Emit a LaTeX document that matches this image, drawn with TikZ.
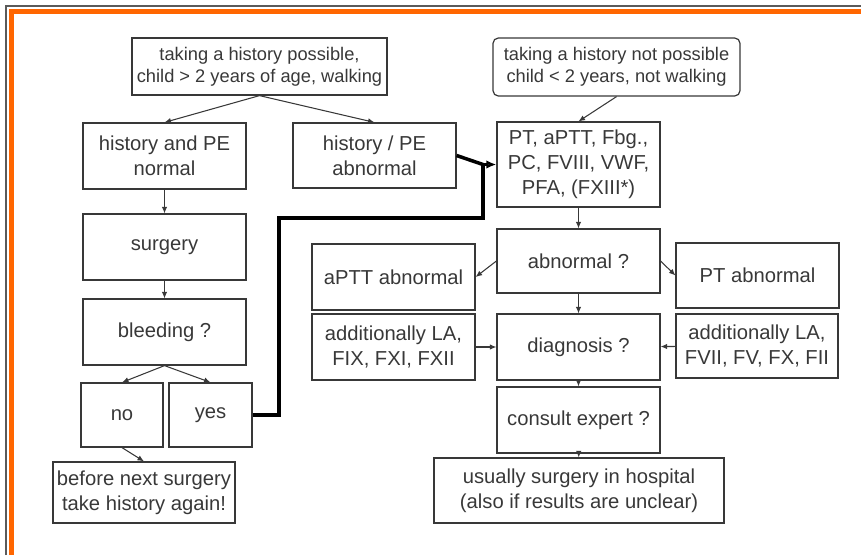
\documentclass[tikz,border=0pt]{standalone}
\usepackage{fontspec}
\setmainfont{Liberation Sans}
\usetikzlibrary{arrows.meta}
\definecolor{framegray}{HTML}{5A5A5A}
\definecolor{frameorange}{HTML}{FF6600}
\definecolor{boxgray}{HTML}{383838}
\tikzset{-{Latex[length = 0.13cm, width = 0.11cm]},
	box/.style = {draw, line width = 0.7pt, align = center, inner sep = 0pt, minimum width = 3.26cm, minimum height = 1.32cm, font = \fontsize{11.5pt}{14.2pt}\selectfont},
	smallbox/.style = {box, font = \fontsize{10.4pt}{12.6pt}\selectfont},
	thickline/.style = {-, draw = black, line width = 2pt},
	grayrule/.style = {-, draw = framegray, line width = 1.1pt},
	orangerule/.style = {-, draw = frameorange, line width = 2.6pt}}

\begin{document}
\begin{tikzpicture}[x = 0.02cm, y = -0.02cm, color = boxgray, line width = 0.6pt]
	
	\useasboundingbox (0, 0) rectangle (861, 555);
	\draw[grayrule] (6, 555) -- (6, 6) -- (861, 6);
	\draw[orangerule] (11.5, 555) -- (11.5, 11.5) -- (861, 11.5);
	
	\node[smallbox, minimum width = 5.1cm, minimum height = 1.14cm] (1) at (259.5, 66.5) {taking a history possible,\\ child > 2 years of age, walking};
	\node[smallbox, rounded corners = 3pt, minimum width = 4.94cm, minimum height = 1.16cm] (2) at (616.5, 67) {taking a history not possible\\ child < 2 years, not walking};
	\node[box] (3) at (164.5, 156) {history and PE\\ normal};
	\node[box, minimum height = 1.3cm] (4) at (374.5, 155.5) {history / PE\\ abnormal};
	\node[box] (5) at (164.5, 247) {surgery};
	\node[box] (6) at (164.5, 332) {bleeding ?};
	\node[box, minimum width = 1.64cm, minimum height = 1.28cm] (7) at (122, 415) {no};
	\node[box, minimum width = 1.66cm, minimum height = 1.28cm] (8) at (210.5, 415) {yes};
	\node[box, minimum width = 3.64cm, minimum height = 1.22cm] (9) at (144, 492.5) {before next surgery\\ take history again!};
	
	\node[box, minimum height = 1.7cm] (10) at (578.5, 164.5) {PT, aPTT, Fbg.,\\ PC, FVIII, VWF,\\ PFA, (FXIII*)};
	\node[box, minimum height = 1.28cm] (11) at (578.5, 261) {abnormal ?};
	\node[box] (12) at (393.5, 277) {aPTT abnormal};
	\node[box] (13) at (393.5, 347) {additionally LA,\\ FIX, FXI, FXII};
	\node[box, minimum height = 1.3cm] (14) at (757.5, 275.5) {PT abnormal};
	\node[box, minimum width = 3.24cm, minimum height = 1.28cm] (15) at (757, 346) {additionally LA,\\ FVII, FV, FX, FII};
	\node[box] (16) at (578.5, 347) {diagnosis ?};
	\node[box] (17) at (578.5, 420) {consult expert ?};
	\node[box, minimum width = 5.8cm, minimum height = 1.3cm] (18) at (579, 490.5) {usually surgery in hospital\\ (also if results are unclear)};
	
	\coordinate (k) at (279, 218);
	\coordinate (j) at (483, 164.5);
	
	\path (1.south) edge (3.north);
	\path (1.south) edge (4.north);
	\path (3) edge (5);
	\path (5) edge (6);
	\path (6.south) edge (7.north);
	\path (6.south) edge (8.north);
	\path (7.south) edge (9.north);
	
	\path (2.south) edge (10.north);
	\path (10) edge (11);
	\path (11.west) edge (12.east);
	\path (11.east) edge (14.west);
	\path (11) edge (16);
	\path (13) edge (16);
	\path (15) edge (16);
	\path (16) edge (17);
	\path (17) edge (18);
	
	\draw[thickline] (8.east) -| (k) -| (j);
	\draw[thickline] (4.east) -- (j);
	\path[thickline] (j) edge[-{Latex[length = 0.2cm, width = 0.17cm]}] (10.west);
	
\end{tikzpicture}
\end{document}
